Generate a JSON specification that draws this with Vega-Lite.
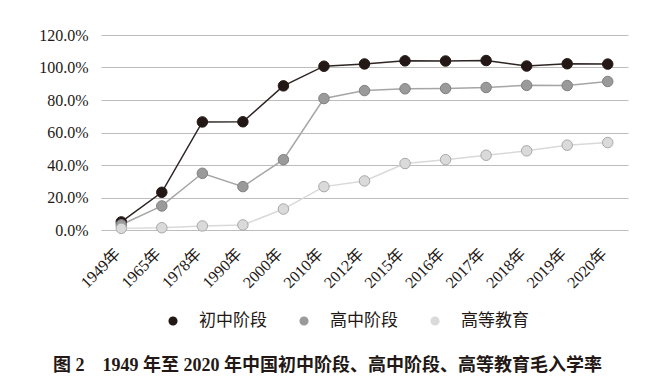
{
  "$schema": "https://vega.github.io/schema/vega-lite/v6.json",
  "autosize": {"type": "none"},
  "width": 527,
  "height": 195,
  "padding": {"left": 101, "top": 35, "right": 43, "bottom": 156},
  "background": "white",
  "config": {
    "view": {"stroke": null},
    "font": "Liberation Serif, Noto Sans CJK SC"
  },
  "title": {
    "text": "图 2　1949 年至 2020 年中国初中阶段、高中阶段、高等教育毛入学率",
    "orient": "bottom",
    "anchor": "middle",
    "frame": "group",
    "dx": -37,
    "offset": 28,
    "font": "Liberation Serif, Noto Sans CJK SC",
    "fontSize": 18,
    "fontWeight": "bold",
    "color": "#231815"
  },
  "data": {
    "values": [
      {"year": "1949年", "series": "初中阶段", "rate": 5.0},
      {"year": "1965年", "series": "初中阶段", "rate": 23.2},
      {"year": "1978年", "series": "初中阶段", "rate": 66.5},
      {"year": "1990年", "series": "初中阶段", "rate": 66.6},
      {"year": "2000年", "series": "初中阶段", "rate": 88.7},
      {"year": "2010年", "series": "初中阶段", "rate": 100.8},
      {"year": "2012年", "series": "初中阶段", "rate": 102.2},
      {"year": "2015年", "series": "初中阶段", "rate": 104.1},
      {"year": "2016年", "series": "初中阶段", "rate": 104.0},
      {"year": "2017年", "series": "初中阶段", "rate": 104.3},
      {"year": "2018年", "series": "初中阶段", "rate": 100.9},
      {"year": "2019年", "series": "初中阶段", "rate": 102.3},
      {"year": "2020年", "series": "初中阶段", "rate": 102.1},
      {"year": "1949年", "series": "高中阶段", "rate": 3.2},
      {"year": "1965年", "series": "高中阶段", "rate": 14.8},
      {"year": "1978年", "series": "高中阶段", "rate": 34.9},
      {"year": "1990年", "series": "高中阶段", "rate": 26.7},
      {"year": "2000年", "series": "高中阶段", "rate": 43.3},
      {"year": "2010年", "series": "高中阶段", "rate": 80.9},
      {"year": "2012年", "series": "高中阶段", "rate": 85.8},
      {"year": "2015年", "series": "高中阶段", "rate": 86.9},
      {"year": "2016年", "series": "高中阶段", "rate": 87.1},
      {"year": "2017年", "series": "高中阶段", "rate": 87.7},
      {"year": "2018年", "series": "高中阶段", "rate": 89.0},
      {"year": "2019年", "series": "高中阶段", "rate": 88.9},
      {"year": "2020年", "series": "高中阶段", "rate": 91.4},
      {"year": "1949年", "series": "高等教育", "rate": 1.0},
      {"year": "1965年", "series": "高等教育", "rate": 1.4},
      {"year": "1978年", "series": "高等教育", "rate": 2.5},
      {"year": "1990年", "series": "高等教育", "rate": 3.1},
      {"year": "2000年", "series": "高等教育", "rate": 12.9},
      {"year": "2010年", "series": "高等教育", "rate": 26.7},
      {"year": "2012年", "series": "高等教育", "rate": 30.2},
      {"year": "2015年", "series": "高等教育", "rate": 40.9},
      {"year": "2016年", "series": "高等教育", "rate": 43.3},
      {"year": "2017年", "series": "高等教育", "rate": 46.0},
      {"year": "2018年", "series": "高等教育", "rate": 48.7},
      {"year": "2019年", "series": "高等教育", "rate": 52.2},
      {"year": "2020年", "series": "高等教育", "rate": 53.8}
    ]
  },
  "encoding": {
    "x": {
      "field": "year",
      "type": "ordinal",
      "sort": null,
      "scale": {"type": "point", "padding": 0.5},
      "axis": {
        "title": null,
        "domain": false,
        "ticks": false,
        "grid": false,
        "labelAngle": -45,
        "labelAlign": "right",
        "labelBaseline": "middle",
        "labelPadding": 21,
        "labelOffset": -4,
        "labelFont": "Liberation Serif, Noto Sans CJK SC",
        "labelFontSize": 16,
        "labelColor": "#231815"
      }
    },
    "y": {
      "field": "rate",
      "type": "quantitative",
      "scale": {"domain": [0, 120], "nice": false, "zero": true},
      "axis": {
        "title": null,
        "values": [0, 20, 40, 60, 80, 100, 120],
        "labelExpr": "format(datum.value, '.1f') + '%'",
        "domain": false,
        "ticks": false,
        "grid": true,
        "gridColor": "#bdbdbd",
        "gridWidth": 1,
        "labelPadding": 13,
        "labelFont": "Liberation Serif",
        "labelFontSize": 16,
        "labelColor": "#231815"
      }
    }
  },
  "layer": [
    {
      "mark": {"type": "line", "strokeWidth": 1.5},
      "encoding": {
        "stroke": {
          "field": "series",
          "type": "nominal",
          "scale": {"domain": ["初中阶段", "高中阶段", "高等教育"], "range": ["#2d2523", "#a6a6a6", "#d9d9d9"]},
          "legend": null
        }
      }
    },
    {
      "mark": {"type": "point", "filled": true, "opacity": 1, "size": 110, "strokeWidth": 1},
      "encoding": {
        "stroke": {
          "field": "series",
          "type": "nominal",
          "scale": {"domain": ["初中阶段", "高中阶段", "高等教育"], "range": ["#231815", "#808080", "#a8a8a8"]},
          "legend": null
        },
        "color": {
          "field": "series",
          "type": "nominal",
          "scale": {"domain": ["初中阶段", "高中阶段", "高等教育"], "range": ["#231815", "#9a9a9a", "#dadada"]},
          "legend": {
            "title": null,
            "orient": "none",
            "legendX": 52,
            "legendY": 266,
            "direction": "horizontal",
            "symbolType": "M-1,0L-0.24,0M0.24,0L1,0M0.24,0A0.24,0.24,0,1,1,-0.24,0A0.24,0.24,0,1,1,0.24,0",
            "symbolSize": 1444,
            "symbolStrokeWidth": 1.5,
            "labelOffset": 6,
            "columnPadding": 17,
            "labelFont": "Liberation Serif, Noto Sans CJK SC",
            "labelFontSize": 17,
            "labelColor": "#231815",
            "encode": {
              "symbols": {
                "shape": {"value": "M-1,0L-0.24,0M0.24,0L1,0M0.24,0A0.24,0.24,0,1,1,-0.24,0A0.24,0.24,0,1,1,0.24,0"},
                "stroke": {"signal": "scale('color', datum.value)"},
                "strokeWidth": {"value": 1.5}
              }
            }
          }
        }
      }
    }
  ],
  "resolve": {"scale": {"stroke": "independent"}}
}
